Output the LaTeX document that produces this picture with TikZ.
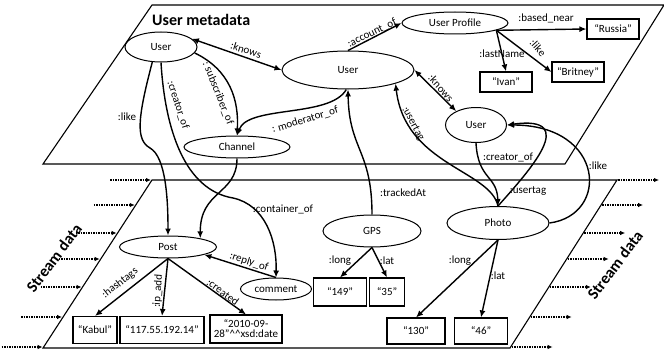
\documentclass[tikz,border=0pt]{standalone}
\usepackage{fontspec}
\setmainfont{Carlito}
\newfontfamily\headfont{Carlito}
\usetikzlibrary{shapes.geometric,arrows.meta}

\tikzset{
  every node/.style={font=\fontsize{11}{11}\selectfont},
  ent/.style={draw, ellipse, line width=1pt, inner sep=0pt},
  lit/.style={draw, rectangle, line width=1.1pt, inner sep=0pt, minimum height=20pt, align=center},
  rel/.style={line width=1.4pt, -{Latex[length=7pt,width=6pt]}},
  relboth/.style={line width=1.4pt, {Latex[length=7pt,width=6pt]}-{Latex[length=7pt,width=6pt]}},
  lbl/.style={inner sep=0pt},
  feed/.style={densely dotted, line width=1.5pt, -{Latex[length=5pt,width=4.5pt]}},
  plane/.style={line width=1.1pt},
  title/.style={font=\headfont\bfseries\fontsize{16}{17}\selectfont, inner sep=0pt}
}

\begin{document}
\begin{tikzpicture}[x=1pt,y=-1pt]
  \useasboundingbox (0,0) rectangle (664,353);

  % the two planes
  \draw[plane] (43,164) -- (565,164) -- (664,5) -- (152,5) -- cycle;
  \draw[plane] (152,180) -- (617,180) -- (510,348) -- (43,348) -- cycle;

  \foreach \y in {180,205,233,259,287,317,347} {
    \pgfmathsetmacro\xl{152-(\y-180)*0.649}
    \pgfmathsetmacro\xr{617-(\y-180)*0.637}
    \draw[feed] (\xl-42,\y) -- (\xl-1,\y);
    \draw[feed] (\xr+1,\y) -- (\xr+42,\y);
  }

  \node[title, anchor=west] (tmeta) at (152,20) {User metadata};
  \node[title, rotate=53] (tstreamleft) at (54,258) {Stream data};
  \node[title, rotate=53] (tstreamright) at (615,265) {Stream data};

  % resources
  \node[ent, minimum width=72pt, minimum height=30pt] (user1) at (161,47) {User};
  \node[ent, minimum width=132pt, minimum height=38pt] (user2) at (348,70) {User};
  \node[ent, minimum width=106pt, minimum height=22pt] (profile) at (455,23) {User Profile};
  \node[ent, minimum width=61pt, minimum height=35pt] (user3) at (476,125) {User};
  \node[ent, minimum width=106pt, minimum height=22pt] (channel) at (237,147) {Channel};
  \node[ent, minimum width=97pt, minimum height=22pt] (post) at (168,247) {Post};
  \node[ent, minimum width=71pt, minimum height=22pt] (comment) at (276,289) {comment};
  \node[ent, minimum width=98pt, minimum height=32pt] (gps) at (372,231) {GPS};
  \node[ent, minimum width=102pt, minimum height=33pt] (photo) at (498,223) {Photo};

  % literals
  \node[lit, minimum width=52pt] (russia) at (613,29) {“Russia”};
  \node[lit, minimum width=52pt] (britney) at (578,72) {“Britney”};
  \node[lit, minimum width=52pt] (ivan) at (506,82) {“Ivan”};
  \node[lit, minimum width=53pt, minimum height=28pt] (long1) at (340,292) {“149”};
  \node[lit, minimum width=35pt, minimum height=28pt] (lat1) at (387,292) {“35”};
  \node[lit, minimum width=58pt, minimum height=26pt] (long2) at (416,331) {“130”};
  \node[lit, minimum width=53pt, minimum height=26pt] (lat2) at (481,331) {“46”};
  \node[lit, minimum width=44pt, minimum height=27pt] (kabul) at (95,330) {“Kabul”};
  \node[lit, minimum width=84pt, minimum height=27pt] (ip) at (162,330) {“117.55.192.14”};
  \node[lit, minimum width=72pt, minimum height=28pt] (date) at (246,329) {“2010-09-\\[-1pt]28”\textasciicircum\textasciicircum xsd:date};

  % properties
  \draw[relboth] (user1.15) -- (user2.west);
  \draw[rel] (user1.-10) .. controls (230,70) and (239,100) .. (channel.north);
  \draw[rel] (user2.265) .. controls (330,118) and (248,105) .. (channel.north);
  \draw[rel] (user2.north) -- (profile.west);
  \draw[rel] (profile.-10) -- (russia.west);
  \draw[rel] (profile.-10) -- (ivan.north);
  \draw[rel] (profile.-10) -- (britney.west);
  \draw[relboth] (user2.east) -- (user3.145);
  \draw[rel] (user3.south) .. controls (478,180) and (497,175) .. (photo.north);
  \draw[rel] (photo.north) .. controls (490,170) and (405,165) .. (user2.-16);
  \draw[rel] (photo.north) .. controls (530,170) and (580,115) .. (user3.east);
  \draw[rel] (photo.east) .. controls (610,215) and (605,125) .. (user3.east);
  \draw[rel] (gps.north) .. controls (372,150) and (349,150) .. (user2.south);
  \draw[rel] (user1.-120) .. controls (137,120) and (136,140) .. (150,148)
    .. controls (166,157) and (168,200) .. (post.north);
  \draw[rel] (user1.south) .. controls (165,130) and (185,190) .. (233,198)
    .. controls (265,205) and (277,240) .. (comment.north);
  \draw[rel] (channel.south) .. controls (237,195) and (200,190) .. (post.15);
  \draw[rel] (comment.north) -- (post.-12);
  \draw[rel] (post.south) -- (kabul.north);
  \draw[rel] (post.south) -- (ip.north);
  \draw[rel] (post.south) -- (date.north);
  \draw[rel] (gps.south) -- (long1.north);
  \draw[rel] (gps.south) -- (lat1.north);
  \draw[rel] (photo.south) -- (long2.north);
  \draw[rel] (photo.south) -- (lat2.north);

  % property labels
  \node[lbl, rotate=-18] (tknows1) at (246,50) {:knows};
  \node[lbl, rotate=-68] (tsubscriber) at (218,93) {: subscriber\_of};
  \node[lbl, rotate=-72] (tcreator1) at (178,105) {:creator\_of};
  \node[lbl] (tlike1) at (127,117) {:like};
  \node[lbl, rotate=17] (tmoderator) at (305,120) {: moderator\_of};
  \node[lbl, rotate=26] (taccount) at (372,33) {:account\_of};
  \node[lbl] (tbased) at (546,18) {:based\_near};
  \node[lbl] (tlastname) at (502,54) {:lastName};
  \node[lbl, rotate=-48] (tlike2) at (538,48) {:like};
  \node[lbl, rotate=-48] (tknows2) at (441,88) {:knows};
  \node[lbl, rotate=-62] (tusertag1) at (413,124) {:usertag};
  \node[lbl] (tcreator2) at (508,157) {:creator\_of};
  \node[lbl] (tlike3) at (598,166) {:like};
  \node[lbl] (tusertag2) at (528,191) {:usertag};
  \node[lbl] (ttracked) at (403,193) {:trackedAt};
  \node[lbl] (tcontainer) at (283,209) {:container\_of};
  \node[lbl, rotate=-18] (treply) at (249,262) {:reply\_of};
  \node[lbl, rotate=38] (thashtags) at (120,283) {:hashtags};
  \node[lbl, rotate=86] (tipadd) at (158,291) {:ip\_add};
  \node[lbl, rotate=-36] (tcreated) at (223,292) {:created};
  \node[lbl] (tlong1) at (340,261) {:long};
  \node[lbl] (tlat1) at (387,261) {:lat};
  \node[lbl] (tlong2) at (460,261) {:long};
  \node[lbl] (tlat2) at (498,276) {:lat};
\end{tikzpicture}
\end{document}
